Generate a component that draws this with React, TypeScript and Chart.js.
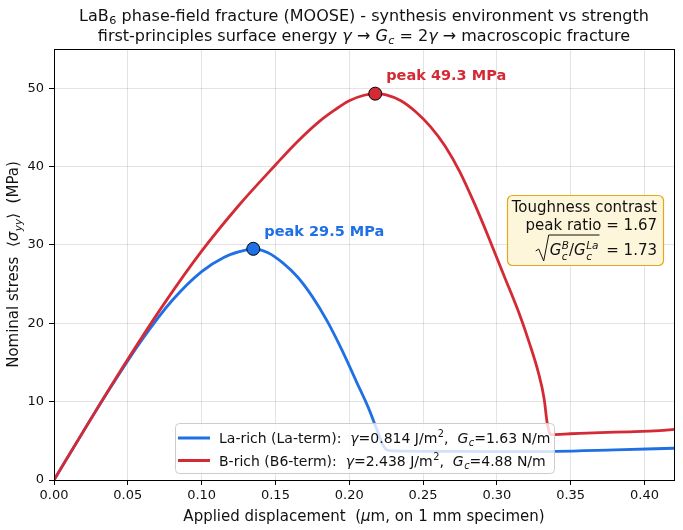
import React, { useEffect, useRef } from 'react';
import { Chart, registerables } from 'chart.js';
Chart.register(...registerables);

const FONT = '"DejaVu Sans", sans-serif';
const BLUE = '#1f6fe5';
const RED = '#d42a35';
const TXT = '#111111';

// La-rich (La-term) stress-displacement curve
const laX = [0, 0.02, 0.04, 0.06, 0.08, 0.1, 0.115, 0.125, 0.135, 0.145, 0.155, 0.165, 0.175, 0.185, 0.195, 0.205, 0.213, 0.219, 0.223, 0.226, 0.23, 0.27, 0.3, 0.34, 0.38, 0.42];
const laY = [0, 6.24, 12.3, 18.0, 22.9, 26.6, 28.4, 29.1, 29.5, 29.0, 27.7, 25.9, 23.4, 20.3, 16.6, 12.5, 9.2, 6.3, 4.4, 3.8, 3.72, 3.65, 3.62, 3.66, 3.85, 4.05];
// B-rich (B6-term) stress-displacement curve
const bX = [0, 0.025, 0.05, 0.075, 0.1, 0.125, 0.15, 0.165, 0.18, 0.19, 0.2, 0.21, 0.2176, 0.225, 0.235, 0.245, 0.255, 0.265, 0.275, 0.285, 0.295, 0.305, 0.315, 0.322, 0.328, 0.332, 0.334, 0.3355, 0.337, 0.35, 0.37, 0.39, 0.41, 0.42];
const bY = [0, 7.8, 15.4, 22.6, 29.2, 35.0, 40.2, 43.2, 45.8, 47.2, 48.4, 49.1, 49.3, 49.15, 48.4, 47.0, 45.1, 42.6, 39.3, 35.2, 30.7, 26.0, 21.3, 17.5, 13.8, 10.4, 7.4, 6.1, 5.8, 5.9, 6.05, 6.15, 6.3, 6.45];

// peaks: [La-rich, B-rich]
const peakX = [0.135, 0.2176];
const peakY = [29.5, 49.3];

const xTicks = [0, 0.05, 0.1, 0.15, 0.2, 0.25, 0.3, 0.35, 0.4];
const yTicks = [0, 10, 20, 30, 40, 50];

type Run = { t: string; i?: boolean; b?: boolean; sub?: string; sup?: string; si?: boolean; spi?: boolean };

function fnt(size: number, italic?: boolean, bold?: boolean) {
  return `${italic ? 'italic ' : ''}${bold ? 'bold ' : ''}${size}px ${FONT}`;
}
function runWidth(ctx: CanvasRenderingContext2D, r: Run, size: number) {
  ctx.font = fnt(size, r.i, r.b);
  const w = ctx.measureText(r.t).width;
  let sw = 0;
  const ss = size * 0.7;
  if (r.sub) { ctx.font = fnt(ss, r.si, r.b); sw = Math.max(sw, ctx.measureText(r.sub).width); }
  if (r.sup) { ctx.font = fnt(ss, r.spi, r.b); sw = Math.max(sw, ctx.measureText(r.sup).width); }
  return w + sw + (sw ? 0.5 : 0);
}
function runsWidth(ctx: CanvasRenderingContext2D, runs: Run[], size: number) {
  return runs.reduce((a, r) => a + runWidth(ctx, r, size), 0);
}
function drawRuns(ctx: CanvasRenderingContext2D, runs: Run[], x: number, cy: number, size: number, color: string, align: 'left' | 'center' | 'right') {
  const total = runsWidth(ctx, runs, size);
  let cx = align === 'center' ? x - total / 2 : align === 'right' ? x - total : x;
  const base = cy + size * 0.36;
  ctx.fillStyle = color;
  ctx.textAlign = 'left';
  ctx.textBaseline = 'alphabetic';
  for (const r of runs) {
    ctx.font = fnt(size, r.i, r.b);
    ctx.fillText(r.t, cx, base);
    const w = ctx.measureText(r.t).width;
    const ss = size * 0.7;
    let sw = 0;
    if (r.sub) {
      ctx.font = fnt(ss, r.si, r.b);
      ctx.fillText(r.sub, cx + w + 0.5, base + size * (r.sup ? 0.28 : 0.22));
      sw = Math.max(sw, ctx.measureText(r.sub).width);
    }
    if (r.sup) {
      ctx.font = fnt(ss, r.spi, r.b);
      ctx.fillText(r.sup, cx + w + 0.5, base - size * 0.42);
      sw = Math.max(sw, ctx.measureText(r.sup).width);
    }
    cx += w + sw + (sw ? 0.5 : 0);
  }
  return total;
}

const overlay = {
  id: 'overlay',
  afterDraw(chart: any) {
    const ctx: CanvasRenderingContext2D = chart.ctx;
    const a = chart.chartArea;
    const xs = chart.scales.x;
    const ys = chart.scales.y;
    ctx.save();
    // frame
    ctx.strokeStyle = '#000';
    ctx.lineWidth = 1;
    ctx.strokeRect(Math.round(a.left) + 0.5, Math.round(a.top) + 0.5, Math.round(a.right - a.left), Math.round(a.bottom - a.top));

    // title
    const midX = (a.left + a.right) / 2;
    drawRuns(ctx, [{ t: 'LaB', sub: '6' }, { t: ' phase-field fracture (MOOSE) - synthesis environment vs strength' }], midX, 15, 16, TXT, 'center');
    drawRuns(ctx, [
      { t: 'first-principles surface energy ' }, { t: 'γ', i: true }, { t: ' → ' },
      { t: 'G', i: true, sub: 'c', si: true }, { t: ' = 2' }, { t: 'γ', i: true }, { t: ' → macroscopic fracture' },
    ], midX, 35, 16, TXT, 'center');

    // axis labels
    drawRuns(ctx, [{ t: 'Applied displacement  (' }, { t: 'μ', i: true }, { t: 'm, on 1 mm specimen)' }], midX, 516, 15, TXT, 'center');
    ctx.save();
    ctx.translate(13, (a.top + a.bottom) / 2);
    ctx.rotate(-Math.PI / 2);
    drawRuns(ctx, [{ t: 'Nominal stress  ⟨' }, { t: 'σ', i: true, sub: 'yy', si: true }, { t: '⟩  (MPa)' }], 0, 0, 15, TXT, 'center');
    ctx.restore();

    // peak labels
    const cols = [BLUE, RED];
    for (let k = 0; k < peakX.length; k++) {
      const px = xs.getPixelForValue(peakX[k]);
      const py = ys.getPixelForValue(peakY[k]);
      ctx.font = fnt(14.5, false, true);
      ctx.fillStyle = cols[k];
      ctx.textAlign = 'left';
      ctx.textBaseline = 'middle';
      ctx.fillText(`peak ${peakY[k].toFixed(1)} MPa`, px + 11, py - 17);
    }

    // annotation box
    ctx.beginPath();
    (ctx as any).roundRect(507.5, 195.5, 156, 70, 5);
    ctx.fillStyle = 'rgba(253,245,217,0.95)';
    ctx.fill();
    ctx.strokeStyle = '#e3a81c';
    ctx.lineWidth = 1.2;
    ctx.stroke();
    const ratio = peakY[1] / peakY[0];
    const rightX = 657;
    drawRuns(ctx, [{ t: 'Toughness contrast' }], rightX, 207, 15, TXT, 'right');
    drawRuns(ctx, [{ t: `peak ratio = ${ratio.toFixed(2)}` }], rightX, 224.5, 15, TXT, 'right');
    const eq: Run[] = [{ t: ' = 1.73' }];
    const rad: Run[] = [
      { t: 'G', i: true, sub: 'c', sup: 'B', si: true, spi: true },
      { t: '/' },
      { t: 'G', i: true, sub: 'c', sup: 'La', si: true, spi: true },
    ];
    const cy3 = 250;
    const eW = runsWidth(ctx, eq, 15);
    const rW = runsWidth(ctx, rad, 15);
    const eqX = rightX - eW;
    const radX = eqX - rW - 3;
    drawRuns(ctx, rad, radX, cy3, 15, TXT, 'left');
    drawRuns(ctx, eq, eqX, cy3, 15, TXT, 'left');
    const x0 = radX - 14;
    ctx.beginPath();
    ctx.moveTo(x0, cy3 + 1);
    ctx.lineTo(x0 + 3, cy3 - 1);
    ctx.lineTo(x0 + 8, cy3 + 11);
    ctx.lineTo(x0 + 13, cy3 - 15);
    ctx.lineTo(radX + rW + 1, cy3 - 15);
    ctx.strokeStyle = TXT;
    ctx.lineWidth = 1;
    ctx.stroke();

    // legend
    ctx.beginPath();
    (ctx as any).roundRect(175.5, 423.5, 379, 50, 4);
    ctx.fillStyle = 'rgba(255,255,255,0.8)';
    ctx.fill();
    ctx.strokeStyle = '#cccccc';
    ctx.lineWidth = 1;
    ctx.stroke();
    const rows: { c: string; runs: Run[] }[] = [
      { c: BLUE, runs: [{ t: 'La-rich (La-term):  ' }, { t: 'γ', i: true }, { t: '=0.814 J/m', sup: '2' }, { t: ',  ' }, { t: 'G', i: true, sub: 'c', si: true }, { t: '=1.63 N/m' }] },
      { c: RED, runs: [{ t: 'B-rich (B6-term):  ' }, { t: 'γ', i: true }, { t: '=2.438 J/m', sup: '2' }, { t: ',  ' }, { t: 'G', i: true, sub: 'c', si: true }, { t: '=4.88 N/m' }] },
    ];
    rows.forEach((r, k) => {
      const y = 438 + k * 22.5;
      ctx.beginPath();
      ctx.moveTo(178, y);
      ctx.lineTo(210, y);
      ctx.strokeStyle = r.c;
      ctx.lineWidth = 3;
      ctx.stroke();
      drawRuns(ctx, r.runs, 219, y, 14, TXT, 'left');
    });
    ctx.restore();
  },
};

export default function App() {
  const ref = useRef<HTMLCanvasElement | null>(null);
  useEffect(() => {
    document.body.style.margin = '0';
    const canvas = ref.current!;
    const gridColor = 'rgba(0,0,0,0.11)';
    const chart = new Chart(canvas, {
      type: 'line',
      data: {
        datasets: [
          { data: [{ x: peakX[1], y: peakY[1] }], backgroundColor: RED, borderColor: '#000', borderWidth: 1, pointRadius: 6.5, showLine: false } as any,
          { data: [{ x: peakX[0], y: peakY[0] }], backgroundColor: BLUE, borderColor: '#000', borderWidth: 1, pointRadius: 6.5, showLine: false } as any,
          { data: bX.map((x, i) => ({ x, y: bY[i] })), borderColor: RED, borderWidth: 2.8, pointRadius: 0, cubicInterpolationMode: 'monotone', fill: false },
          { data: laX.map((x, i) => ({ x, y: laY[i] })), borderColor: BLUE, borderWidth: 2.8, pointRadius: 0, cubicInterpolationMode: 'monotone', fill: false },
        ],
      },
      options: {
        animation: false,
        responsive: false,
        devicePixelRatio: 1,
        layout: { padding: { top: 49, right: 9, left: 0, bottom: 0 } },
        plugins: { legend: { display: false }, tooltip: { enabled: false }, title: { display: false } },
        scales: {
          x: {
            type: 'linear', min: 0, max: 0.42,
            afterBuildTicks: (s: any) => { s.ticks = xTicks.map((v) => ({ value: v })); },
            afterFit: (s: any) => { s.height = 50; },
            ticks: { callback: (v: any) => Number(v).toFixed(2), font: { family: FONT, size: 13 }, color: TXT, padding: 3, maxRotation: 0, autoSkip: false },
            grid: { color: gridColor, tickColor: '#000', tickLength: 5, drawTicks: true },
            border: { display: false },
          },
          y: {
            type: 'linear', min: 0, max: 55,
            afterBuildTicks: (s: any) => { s.ticks = yTicks.map((v) => ({ value: v })); },
            afterFit: (s: any) => { s.width = 54; },
            ticks: { callback: (v: any) => String(v), font: { family: FONT, size: 13 }, color: TXT, padding: 5, autoSkip: false },
            grid: { color: gridColor, tickColor: '#000', tickLength: 5, drawTicks: true },
            border: { display: false },
          },
        },
      },
      plugins: [overlay],
    });
    return () => chart.destroy();
  }, []);
  return (
    <div style={{ position: 'absolute', left: 0, top: 0, width: 683, height: 530, background: '#fff' }}>
      <canvas ref={ref} width={683} height={530} style={{ display: 'block' }} />
    </div>
  );
}
